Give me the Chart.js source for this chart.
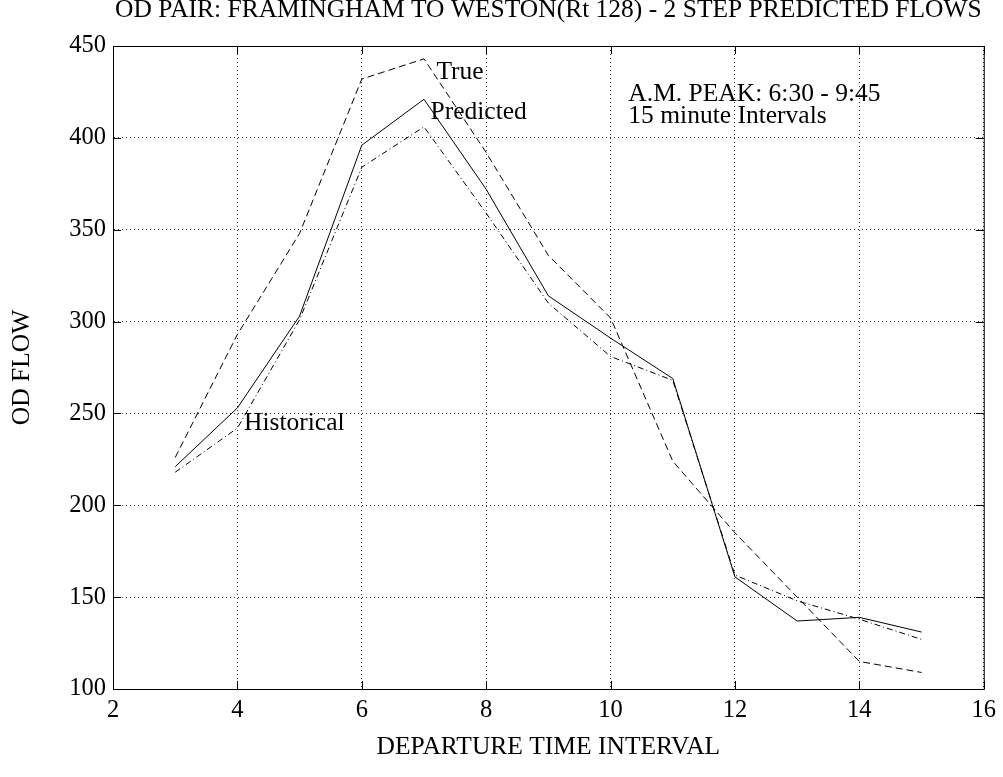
<!DOCTYPE html>
<html>
<head>
<meta charset="utf-8">
<script src="https://cdn.jsdelivr.net/npm/chart.js@4.4.0/dist/chart.umd.min.js"></script>
<style>
  body { margin: 0; background: #fff; }
  #wrap { width: 1003px; height: 777px; }
</style>
</head>
<body>
<div id="wrap"><canvas id="odChart" width="1003" height="777"></canvas></div>
<script>
// departure time intervals (15 min each)
const intervals = [3, 4, 5, 6, 7, 8, 9, 10, 11, 12, 13, 14, 15];
const trueFlow = [226, 293, 348, 432, 443, 392, 336, 302, 224, 185, 150, 115, 109];
const predictedFlow = [221, 253, 303, 396, 421, 372, 314, 291, 269, 161, 137, 139, 131];
const historicalFlow = [218, 242, 301, 384, 406, 359, 310, 281, 268, 162, 148, 138, 127];

const xTicks = [2, 4, 6, 8, 10, 12, 14, 16];
const yTicks = [100, 150, 200, 250, 300, 350, 400, 450];

// text labels placed in data coordinates [x, y(baseline), text]
const labels = [
    [7.2, 432, 'True'],
    [7.105, 410, 'Predicted'],
    [4.106, 241, 'Historical'],
    [10.286, 420, 'A.M. PEAK: 6:30 - 9:45'],
    [10.286, 408.2, '15 minute Intervals']
];

const chartTitle = 'OD PAIR: FRAMINGHAM TO WESTON(Rt 128) - 2 STEP PREDICTED FLOWS';
const FONT = '"Liberation Serif", "Times New Roman", serif';

function pts(ys) {
    return intervals.map((x, i) => ({ x: x, y: ys[i] }));
}

// box, inward ticks, annotations, title
const decor = {
    id: 'decor',
    afterDraw(chart) {
        const { ctx, chartArea: a, scales } = chart;
        const sx = scales.x, sy = scales.y;
        ctx.save();
        ctx.strokeStyle = '#000';
        ctx.lineWidth = 1;
        ctx.setLineDash([]);
        ctx.strokeRect(a.left + 0.5, a.top + 0.5, a.right - a.left, a.bottom - a.top);
        const tl = 8;
        ctx.beginPath();
        xTicks.forEach(v => {
            const px = Math.round(sx.getPixelForValue(v)) + 0.5;
            ctx.moveTo(px, a.bottom); ctx.lineTo(px, a.bottom - tl);
            ctx.moveTo(px, a.top); ctx.lineTo(px, a.top + tl);
        });
        yTicks.forEach(v => {
            const py = Math.round(sy.getPixelForValue(v)) + 0.5;
            ctx.moveTo(a.left, py); ctx.lineTo(a.left + tl, py);
            ctx.moveTo(a.right, py); ctx.lineTo(a.right - tl, py);
        });
        ctx.stroke();

        ctx.fillStyle = '#000';
        ctx.font = '25.5px ' + FONT;
        ctx.textAlign = 'left';
        ctx.textBaseline = 'alphabetic';
        labels.forEach(([x, y, t]) => {
            ctx.fillText(t, sx.getPixelForValue(x), sy.getPixelForValue(y));
        });

        ctx.textAlign = 'center';
        ctx.fillText(chartTitle, (a.left + a.right) / 2, 17);
        ctx.restore();
    }
};

const lineBase = {
    borderColor: '#000',
    borderWidth: 1,
    pointRadius: 0,
    fill: false,
    tension: 0
};

new Chart(document.getElementById('odChart'), {
    type: 'line',
    data: {
        datasets: [
            Object.assign({ label: 'True', data: pts(trueFlow), borderDash: [7, 4] }, lineBase),
            Object.assign({ label: 'Predicted', data: pts(predictedFlow) }, lineBase),
            Object.assign({ label: 'Historical', data: pts(historicalFlow), borderDash: [6, 3, 1, 3] }, lineBase)
        ]
    },
    options: {
        responsive: false,
        animation: false,
        layout: { padding: { left: 0, right: 18, top: 46, bottom: 0 } },
        plugins: {
            legend: { display: false },
            tooltip: { enabled: false },
            title: { display: false }
        },
        scales: {
            x: {
                type: 'linear',
                min: 2, max: 16,
                afterBuildTicks: s => { s.ticks = xTicks.map(v => ({ value: v })); },
                afterFit: s => { s.height = 88; },
                grid: { color: '#333', lineWidth: 1, drawTicks: false },
                border: { display: true, color: '#000', width: 1, dash: [1, 3] },
                ticks: { color: '#000', padding: 7, font: { family: FONT, size: 24.5 }, maxRotation: 0 },
                title: {
                    display: true,
                    text: 'DEPARTURE TIME INTERVAL',
                    color: '#000',
                    font: { family: FONT, size: 25.5 },
                    padding: { top: 0, bottom: 14 }
                }
            },
            y: {
                type: 'linear',
                min: 100, max: 450,
                afterBuildTicks: s => { s.ticks = yTicks.map(v => ({ value: v })); },
                afterFit: s => { s.width = 113; },
                grid: { color: '#333', lineWidth: 1, drawTicks: false },
                border: { display: true, color: '#000', width: 1, dash: [1, 3] },
                ticks: { color: '#000', padding: 7, font: { family: FONT, size: 24.5 } },
                title: {
                    display: true,
                    text: 'OD FLOW',
                    color: '#000',
                    font: { family: FONT, size: 25.5 },
                    padding: { top: 7, bottom: 0 }
                }
            }
        }
    },
    plugins: [decor]
});
</script>
</body>
</html>
